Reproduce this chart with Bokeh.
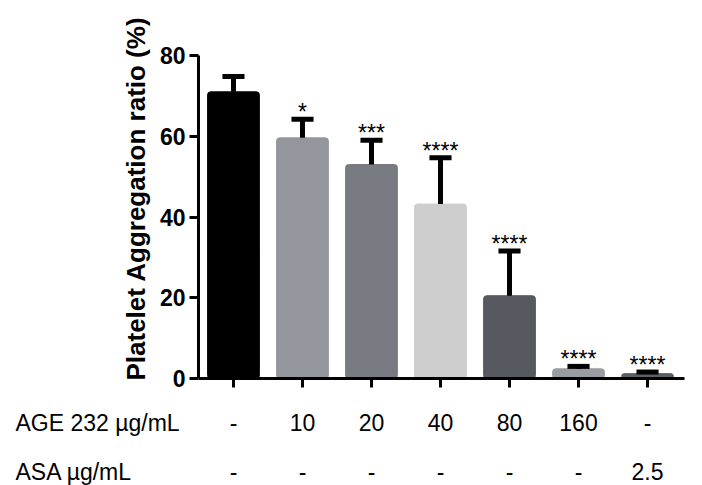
import math
from bokeh.plotting import figure
from bokeh.models import Range1d, FixedTicker, ColumnDataSource
from bokeh.core.properties import value
from bokeh.embed import file_html
from bokeh.resources import INLINE

# ---- data ----
groups = [1, 2, 3, 4, 5, 6, 7]
means = [71.0, 59.6, 53.0, 43.2, 20.5, 2.4, 1.2]
upper = [74.8, 64.2, 59.0, 54.7, 31.6, 3.0, 1.6]
stars = ["", "*", "***", "****", "****", "****", "****"]
colors = ["#000000", "#94969d", "#797b82", "#cdcdcd", "#56595f", "#9a9ca3", "#5d5f66"]
age_labels = ["-", "10", "20", "40", "80", "160", "-"]
asa_labels = ["-", "-", "-", "-", "-", "-", "2.5"]
row_titles = ["AGE 232 µg/mL", "ASA µg/mL"]
y_ticks = [0, 20, 40, 60, 80]
y_title = "Platelet Aggregation ratio (%)"

FONT = "Liberation Sans"
W, H = 702, 485
# pixel geometry of the axes box (layout only)
PX_L, PX_R, PX_T, PX_B = 198, 684, 55, 378
X0, X1 = 0.493, 7.536
Y0, Y1 = 0, 80

sx = (PX_R - PX_L) / (X1 - X0)
sy = (PX_B - PX_T) / (Y1 - Y0)
tx0 = X0 - PX_L / sx
tx1 = X1 + (W - PX_R) / sx
ty0 = Y0 - (H - PX_B) / sy
ty1 = Y1 + PX_T / sy

p = figure(width=W, height=H, output_backend="svg", toolbar_location=None,
           x_range=Range1d(tx0, tx1), y_range=Range1d(ty0, ty1),
           min_border_left=0, min_border_right=0, min_border_top=0, min_border_bottom=0)
p.outline_line_color = None
p.xgrid.visible = False
p.ygrid.visible = False

src = ColumnDataSource(dict(x=groups, top=means, up=upper, c=colors,
                            cl=[g - 0.16 for g in groups], cr=[g + 0.16 for g in groups]))
p.vbar(x="x", top="top", bottom=0, width=0.75, fill_color="c", line_color="c", line_width=1,
       border_radius=3, source=src)
p.segment(x0="x", y0="top", x1="x", y1="up", line_color="black", line_width=5, source=src)
p.segment(x0="cl", y0="up", x1="cr", y1="up", line_color="black", line_width=5, source=src)

star_idx = [i for i, s in enumerate(stars) if s]
star_src = ColumnDataSource(dict(x=[groups[i] for i in star_idx],
                                 y=[upper[i] for i in star_idx],
                                 s=[stars[i] for i in star_idx]))
p.text(x="x", y="y", text="s", text_align="center", text_baseline="alphabetic",
       y_offset=-7, text_font=value(FONT), text_font_size="23px", text_color="black",
       source=star_src)

# y axis
ya = p.yaxis[0]
ya.fixed_location = X0
ya.bounds = (Y0, Y1)
ya.ticker = FixedTicker(ticks=y_ticks)
ya.axis_line_width = 3
ya.axis_line_color = "black"
ya.major_tick_line_width = 3
ya.major_tick_line_color = "black"
ya.major_tick_out = 9
ya.major_tick_in = 0
ya.minor_tick_line_color = None
ya.major_label_text_font = FONT
ya.major_label_text_font_style = "bold"
ya.major_label_text_font_size = "23px"
ya.major_label_text_color = "black"
ya.major_label_standoff = 4

# y axis title (rotated text, placed like the reference)
p.text(x=[tx0 + 135 / sx], y=[(PX_B - 198) / sy], text=[y_title], angle=math.pi / 2,
       text_align="center", text_baseline="middle", text_font=value(FONT),
       text_font_style="bold", text_font_size="26px", text_color="black")

# x axis
xa = p.xaxis[0]
xa.fixed_location = Y0
xa.bounds = (X0, X1)
xa.ticker = FixedTicker(ticks=groups)
xa.axis_line_width = 3
xa.axis_line_color = "black"
xa.major_tick_line_width = 3
xa.major_tick_line_color = "black"
xa.major_tick_out = 9
xa.major_tick_in = 0
xa.minor_tick_line_color = None
xa.major_label_overrides = {g: "" for g in groups}
xa.major_label_text_font_size = "8px"
xa.major_label_standoff = 0

# ---- table below the axis, on the same x scale ----
row_y = [(PX_B - 422) / sy, (PX_B - 471) / sy]
for rlabels, ry in zip([age_labels, asa_labels], row_y):
    p.text(x=groups, y=[ry] * len(groups), text=rlabels, text_align="center",
           text_baseline="alphabetic", text_font=value(FONT), text_font_size="23px",
           text_color="black")
p.text(x=[tx0 + 15 / sx] * 2, y=row_y, text=row_titles, text_align="left",
       text_baseline="alphabetic", text_font=value(FONT), text_font_size="23px",
       text_color="black")

open("out.html", "w").write(file_html(p, INLINE))
